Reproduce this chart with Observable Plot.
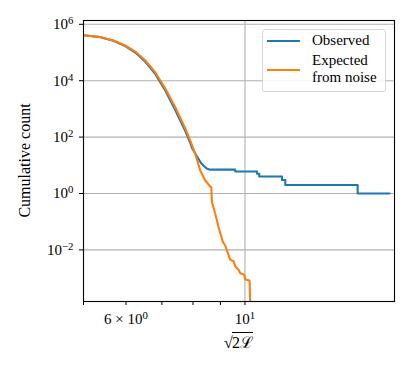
<!DOCTYPE html>
<html>
<head>
<meta charset="utf-8">
<script src="https://cdn.jsdelivr.net/npm/d3@7"></script>
<script src="https://cdn.jsdelivr.net/npm/@observablehq/plot@0.6"></script>
<style>
  body { margin: 0; background: #fff; }
  #wrap { position: relative; width: 415px; height: 369px; font-family: "Liberation Serif", serif; color: #000; }
  #legend { position: absolute; left: 262px; top: 29px; width: 122px; height: 61px; border: 1px solid #d6d6d6; border-radius: 3px; background: rgba(255,255,255,0.85); }
  .swatch { position: absolute; left: 4px; width: 33px; height: 2px; }
  .ltxt { position: absolute; left: 49px; font-size: 15px; line-height: 17px; height: 17px; white-space: nowrap; }
  #xlabel { position: absolute; left: 0; width: 415px; top: 331px; text-align: center; padding-left: 62px; box-sizing: border-box; font-size: 16px; }
  #xlabel .vinc { border-top: 1px solid #000; padding-top: 1px; margin-left: -1px; }
</style>
</head>
<body>
<div id="wrap">
  <div id="chart"></div>
  <div id="legend"></div>
  <div id="xlabel"></div>
</div>
<script>
// ---- data ----
const obsX = [5.003, 5.374, 5.684, 5.982, 6.245, 6.52, 6.806, 7.104, 7.417, 7.74, 7.907, 7.97, 8.06, 8.19, 8.28, 8.38, 8.5, 8.62,
              9.59, 9.59, 10.53, 10.53, 10.63, 10.63, 11.72, 11.72, 11.89, 11.89, 16.22, 16.22, 18.6];
const obsY = [4.1e5, 3.5e5, 2.6e5, 1.7e5, 1.0e5, 4.7e4, 1.7e4, 4.5e3, 900, 165, 62, 40, 28, 17, 12, 9.5, 7.5, 7,
              7, 6, 6, 5, 5, 4, 4, 3, 3, 2, 2, 1, 1];
const expX = [5.003, 5.374, 5.684, 5.982, 6.245, 6.52, 6.806, 7.104, 7.417, 7.74, 7.907, 8.08, 8.253, 8.433, 8.615, 8.654, 8.68,
              8.801, 8.929, 9.099, 9.19, 9.281, 9.389, 9.524, 9.592, 9.73, 9.8, 9.97, 10.013, 10.2, 10.23];
const expY = [4.1e5, 3.55e5, 2.67e5, 1.77e5, 1.08e5, 5.2e4, 1.95e4, 5.3e3, 1.12e3, 202, 75, 25.6, 6.5, 2.89, 1.75, 1.67, 0.49,
              0.191, 0.0638, 0.01875, 0.01432, 0.00828, 0.00446, 0.00397, 0.00258, 0.00197, 0.00149, 0.00131, 0.000891, 0.000822, 0.0001];
const seriesNames = [["Observed"], ["Expected", "from noise"]];
const seriesColors = ["#1f77b4", "#ff7f0e"];
const yTicks = [1e-2, 1, 1e2, 1e4, 1e6];
const yTickLabels = ["10^−2", "10^0", "10^2", "10^4", "10^6"];
const xTicks = [5, 6, 7, 8, 9, 10];
const xTickLabels = ["", "6 × 10^0", "", "", "", "10^1"];
const xGrid = [10];
const yLabel = "Cumulative count";

const observed = obsX.map((x, i) => ({x, y: obsY[i]}));
const expected = expX.map((x, i) => ({x, y: expY[i]}));

const chart = Plot.plot({
  width: 415,
  height: 369,
  marginLeft: 83,
  marginRight: 21,
  marginTop: 20,
  marginBottom: 68,
  style: {fontFamily: "Liberation Serif, serif", fontSize: "15px", color: "#000", background: "#fff"},
  x: {type: "log", domain: [5, 19]},
  y: {type: "log", domain: [1.48e-4, 1.365e6]},
  marks: [
    Plot.gridY(yTicks, {stroke: "#b0b0b0", strokeOpacity: 1, strokeWidth: 1.1}),
    Plot.gridX(xGrid, {stroke: "#b0b0b0", strokeOpacity: 1, strokeWidth: 1.1}),
    Plot.line(observed, {x: "x", y: "y", stroke: seriesColors[0], strokeWidth: 2.1, clip: true}),
    Plot.line(expected, {x: "x", y: "y", stroke: seriesColors[1], strokeWidth: 2.1, clip: true}),
    Plot.axisY({ticks: yTicks, tickFormat: d => yTickLabels[yTicks.indexOf(d)], tickSize: 4, tickPadding: 6, label: null, stroke: "#000"}),
    Plot.axisX({ticks: xTicks, tickFormat: d => xTickLabels[xTicks.indexOf(d)], tickSize: 4, tickPadding: 8, label: null, stroke: "#000"}),
    Plot.frame({stroke: "#000", strokeWidth: 1.1})
  ]
});
document.getElementById("chart").appendChild(chart);

// superscripts in tick labels
d3.select(chart).selectAll("g[aria-label$='tick label'] text").each(function () {
  const t = this.textContent;
  const m = t.match(/^(.*)\^(.*)$/);
  if (!m) return;
  const sel = d3.select(this);
  sel.text(null);
  sel.append("tspan").text(m[1]);
  sel.append("tspan").attr("dy", "-0.45em").attr("font-size", "0.72em").text(m[2]);
});

// y-axis label
d3.select(chart).append("text")
  .attr("transform", "translate(30,160.5) rotate(-90)")
  .attr("text-anchor", "middle")
  .attr("font-size", "16px")
  .attr("fill", "#000")
  .text(yLabel);

// x-axis label: sqrt(2L)
document.getElementById("xlabel").innerHTML = '<span>√</span><span class="vinc">2ℒ</span>';

// legend
const legend = document.getElementById("legend");
const swY = [10, 39];
const lineTops = [[2], [22, 39]];
seriesNames.forEach((lines, i) => {
  const sw = document.createElement("div");
  sw.className = "swatch";
  sw.style.top = swY[i] + "px";
  sw.style.background = seriesColors[i];
  legend.appendChild(sw);
  lines.forEach((ln, j) => {
    const tx = document.createElement("div");
    tx.className = "ltxt";
    tx.style.top = lineTops[i][j] + "px";
    tx.textContent = ln;
    legend.appendChild(tx);
  });
});
</script>
</body>
</html>
